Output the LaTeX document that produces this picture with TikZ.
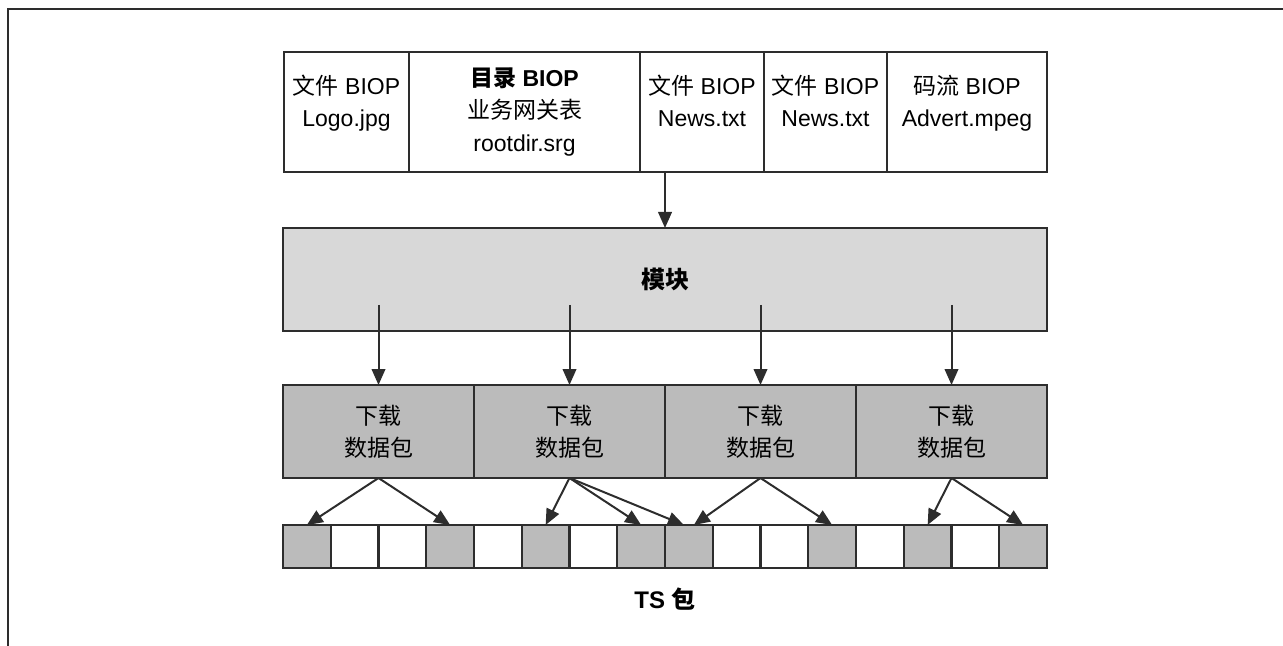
\documentclass[tikz,border=0pt]{standalone}
\usepackage{fontspec}
\setmainfont{Liberation Sans}
\newfontfamily\cjk{Noto Sans CJK SC}
\usetikzlibrary{arrows.meta,positioning}
\definecolor{edgegray}{RGB}{45,45,45}
\definecolor{modfill}{RGB}{216,216,216}
\definecolor{pktfill}{RGB}{187,187,187}
\newcommand{\zh}[1]{{\cjk #1}}

\begin{document}
\begin{tikzpicture}[x=0.5pt,y=-0.5pt,node distance=0pt,
    every node/.style={font=\fontsize{11.5}{16.2}\selectfont},
    biop/.style={rectangle,draw=edgegray,line width=1.2pt,outer sep=0pt,inner sep=0pt,
      minimum height=60pt,align=center},
    module/.style={rectangle,draw=edgegray,fill=modfill,line width=1.2pt,outer sep=0pt,
      minimum width=382pt,minimum height=51.5pt,font=\fontsize{12}{16}\selectfont\bfseries},
    pkt/.style={rectangle,draw=edgegray,fill=pktfill,line width=1.2pt,outer sep=0pt,
      minimum width=95.5pt,minimum height=46.5pt,align=center},
    tscell/.style={rectangle,draw=edgegray,line width=1.2pt,outer sep=0pt,inner sep=0pt,
      minimum width=23.875pt,minimum height=21.5pt},
    arrow/.style={-{Triangle[length=8pt,width=6.8pt]},line width=1pt,draw=edgegray}]
  \useasboundingbox (0,0) rectangle (1283,646);
  \draw[line width=0.8pt,edgegray] (8,646) -- (8,9) -- (1283,9);
  % BIOP objects
  \node[biop,minimum width=62.5pt] (logo) at (346.5,112) {\zh{文件} BIOP\\Logo.jpg\\[-5pt]\mbox{}};
  \node[biop,minimum width=115.5pt,right=of logo] (rootdir) {\textbf{\zh{目录} BIOP}\\\zh{业务网关表}\\rootdir.srg};
  \node[biop,minimum width=62pt,right=of rootdir] (news1) {\zh{文件} BIOP\\News.txt\\[-5pt]\mbox{}};
  \node[biop,minimum width=61.5pt,right=of news1] (news2) {\zh{文件} BIOP\\News.txt\\[-5pt]\mbox{}};
  \node[biop,minimum width=80pt,right=of news2] (advert) {\zh{码流} BIOP\\Advert.mpeg\\[-5pt]\mbox{}};
  % module and download packets
  \node[module] (module) at (665,279.5) {\zh{模块}};
  \node[pkt] (dl1) at (378.5,431.5) {\zh{下载}\\\zh{数据包}};
  \node[pkt,right=of dl1] (dl2) {\zh{下载}\\\zh{数据包}};
  \node[pkt,right=of dl2] (dl3) {\zh{下载}\\\zh{数据包}};
  \node[pkt,right=of dl3] (dl4) {\zh{下载}\\\zh{数据包}};
  % TS packets
  \foreach \f [count=\i] in {pktfill,white,white,pktfill,white,pktfill,white,pktfill,
      pktfill,white,white,pktfill,white,pktfill,white,pktfill}
    \node[tscell,fill=\f] (ts\i) at ({283+47.75*(\i-0.5)},546.5) {};
  \node[font=\fontsize{12}{16}\selectfont\bfseries] (tslabel) at (665,599) {TS \zh{包}};
  % arrows
  \draw[arrow] (news1.south -| module.north) -- (module);
  \foreach \i in {1,...,4} {
    \coordinate (tap\i) at (dl\i.north |- 0,305);
    \draw[arrow] (tap\i) -- (dl\i);
  }
  \draw[arrow] (dl1.south) -- (ts1.north);
  \draw[arrow] (dl1.south) -- (ts4.north);
  \draw[arrow] (dl2.south) -- (ts6.north);
  \draw[arrow] (dl2.south) -- (ts8.north);
  \draw[arrow] (dl2.south) -- ([xshift=-2.5pt]ts9.north);
  \draw[arrow] (dl3.south) -- ([xshift=2.5pt]ts9.north);
  \draw[arrow] (dl3.south) -- (ts12.north);
  \draw[arrow] (dl4.south) -- (ts14.north);
  \draw[arrow] (dl4.south) -- (ts16.north);
\end{tikzpicture}
\end{document}
